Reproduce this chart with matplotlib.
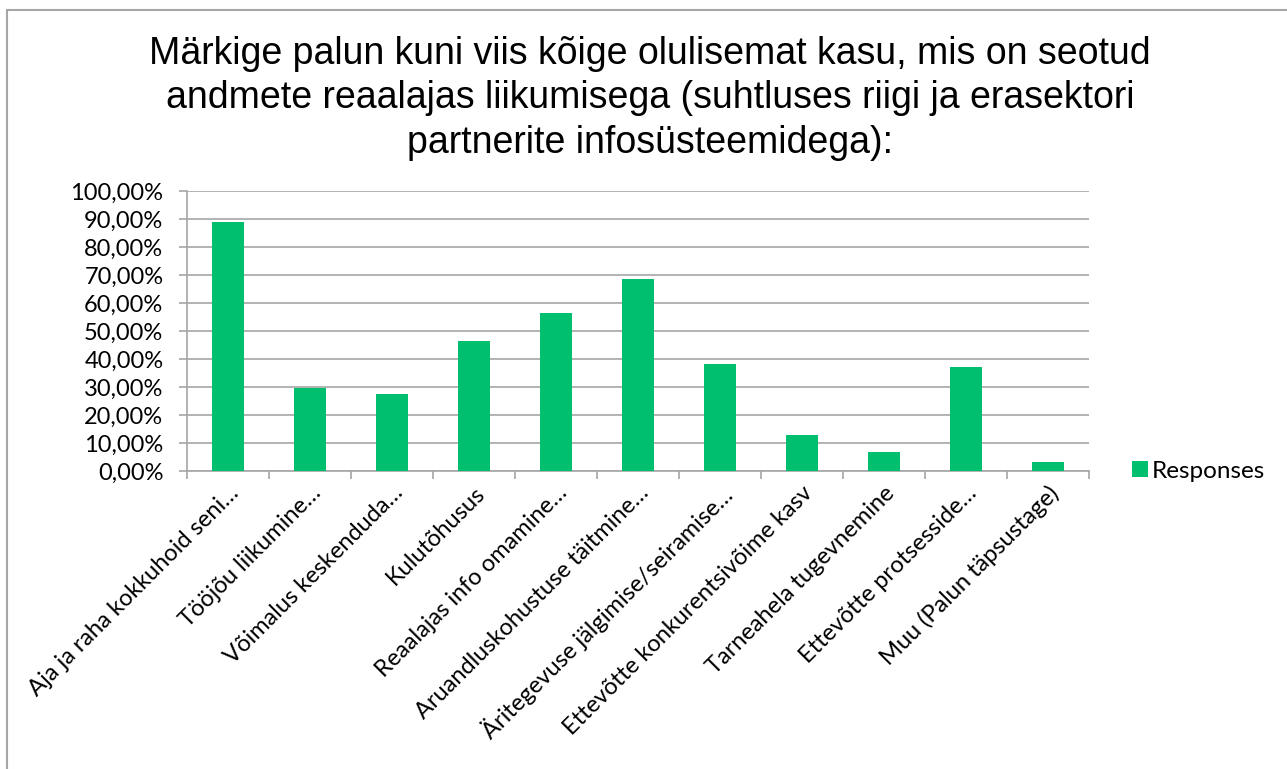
import matplotlib
matplotlib.use('Agg')
from matplotlib import pyplot as plt
from matplotlib.patches import Rectangle
from matplotlib.ticker import FuncFormatter, FixedLocator
import numpy as np

categories = ['Aja ja raha kokkuhoid seni…', 'Tööjõu liikumine…', 'Võimalus keskenduda…',
              'Kulutõhusus', 'Reaalajas info omamine…', 'Aruandluskohustuse täitmine…',
              'Äritegevuse jälgimise/seiramise…', 'Ettevõtte konkurentsivõime kasv',
              'Tarneahela tugevnemine', 'Ettevõtte protsesside…', 'Muu (Palun täpsustage)']
responses = [0.889, 0.295, 0.275, 0.463, 0.565, 0.685, 0.382, 0.129, 0.069, 0.370, 0.032]

title = ('Märkige palun kuni viis kõige olulisemat kasu, mis on seotud\n'
         'andmete reaalajas liikumisega (suhtluses riigi ja erasektori\n'
         'partnerite infosüsteemidega):')

green = '#00BF6F'
gray = '#A6A6A6'
lbl_font = ['Lato', 'DejaVu Sans']

fig = plt.figure(figsize=(12.87, 7.69), dpi=100)
W, H = 1287, 769
ax = fig.add_axes([187 / W, 1 - 471 / H, 902 / W, 280 / H])

x = np.arange(len(categories))
ax.bar(x, responses, width=0.4, color=green, label='Responses', zorder=3)

ax.set_xlim(-0.5, len(categories) - 0.5)
ax.set_ylim(0, 1.0)
ax.set_yticks(np.arange(0, 1.01, 0.1))
ax.yaxis.set_major_formatter(FuncFormatter(lambda v, p: ('%.2f%%' % (v * 100)).replace('.', ',')))
ax.grid(axis='y', color=gray, linewidth=1.2, zorder=0)

ax.set_xticks(x)
ax.set_xticklabels(categories, rotation=45, ha='right', va='top', rotation_mode='anchor',
                   fontsize=17, family=lbl_font)
ax.xaxis.set_minor_locator(FixedLocator(np.arange(-0.5, len(categories), 1)))
ax.tick_params(axis='x', which='major', length=0, pad=8)
ax.tick_params(axis='x', which='minor', length=6, color=gray, width=1.2)
ax.tick_params(axis='y', length=6, color=gray, width=1.2, pad=11, labelsize=17)
for t in ax.get_yticklabels():
    t.set_family(lbl_font)

for s in ['top', 'right']:
    ax.spines[s].set_visible(False)
for s in ['left', 'bottom']:
    ax.spines[s].set_color(gray)
    ax.spines[s].set_linewidth(1.2)

fig.text(650 / W, 1 - 36 / H, title, ha='center', va='top', fontsize=27,
         family='Liberation Sans', linespacing=1.3)

ax.legend(loc='center left', bbox_to_anchor=(1110 / W, 1 - 471 / H),
          bbox_transform=fig.transFigure, frameon=False, handlelength=0.65,
          handleheight=0.65, handletextpad=0.15, prop={'family': lbl_font, 'size': 17.5})

fig.patches.append(Rectangle((7 / W, -0.1), 1.2, 1.1 - 10 / H, transform=fig.transFigure,
                             fill=False, edgecolor=gray, linewidth=1.5, clip_on=False))

plt.savefig('out.png', dpi=100)
